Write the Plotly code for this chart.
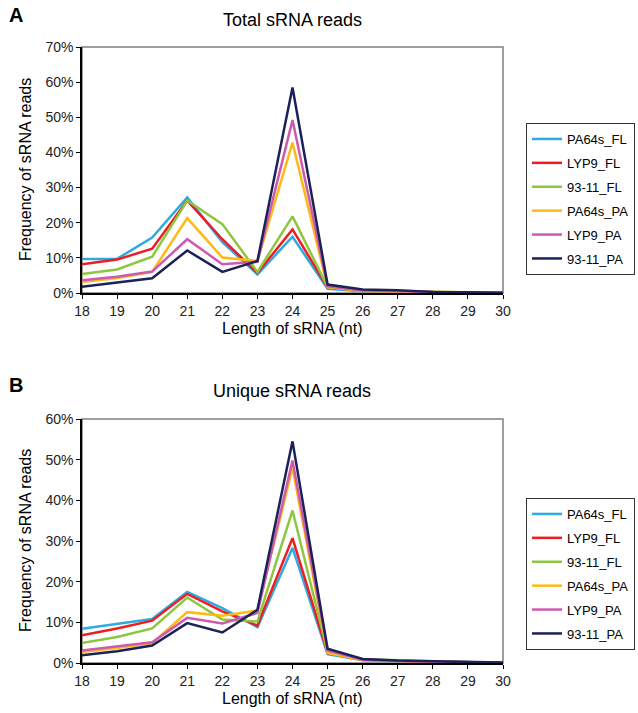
import plotly.graph_objects as go

lengths = [18, 19, 20, 21, 22, 23, 24, 25, 26, 27, 28, 29, 30]
series_names = ["PA64s_FL", "LYP9_FL", "93-11_FL", "PA64s_PA", "LYP9_PA", "93-11_PA"]
colors = ["#2DAAE1", "#EE1D23", "#8DC63F", "#FDBA12", "#CC5AB0", "#1C2258"]

# Total sRNA reads (%)
total_PA64s_FL = [9.7, 9.7, 15.8, 27.2, 14.5, 5.3, 16.0, 1.2, 0.5, 0.4, 0.2, 0.1, 0.05]
total_LYP9_FL = [8.2, 9.5, 12.6, 26.3, 15.3, 5.7, 18.1, 1.6, 0.6, 0.4, 0.2, 0.1, 0.05]
total_9311_FL = [5.4, 6.7, 10.3, 26.3, 19.6, 6.0, 21.8, 1.7, 0.6, 0.5, 0.2, 0.1, 0.05]
total_PA64s_PA = [3.1, 4.3, 6.0, 21.3, 10.1, 9.1, 42.8, 1.7, 0.6, 0.5, 0.2, 0.1, 0.05]
total_LYP9_PA = [3.6, 4.6, 6.1, 15.3, 8.2, 8.9, 49.2, 1.9, 0.7, 0.5, 0.2, 0.1, 0.05]
total_9311_PA = [1.8, 2.9, 4.2, 12.1, 6.0, 9.1, 58.5, 2.4, 1.0, 0.8, 0.3, 0.2, 0.05]

# Unique sRNA reads (%)
uniq_PA64s_FL = [8.4, 9.6, 10.8, 17.5, 13.5, 8.8, 28.3, 2.2, 0.7, 0.5, 0.3, 0.1, 0.05]
uniq_LYP9_FL = [6.8, 8.5, 10.4, 17.0, 12.7, 9.2, 30.7, 2.5, 0.8, 0.5, 0.3, 0.1, 0.05]
uniq_9311_FL = [4.9, 6.4, 8.5, 16.1, 10.7, 10.2, 37.5, 2.7, 0.9, 0.6, 0.4, 0.2, 0.05]
uniq_PA64s_PA = [2.7, 3.7, 4.9, 12.5, 11.6, 12.9, 48.0, 2.5, 0.7, 0.5, 0.3, 0.1, 0.05]
uniq_LYP9_PA = [3.1, 4.1, 5.1, 11.1, 9.7, 12.3, 49.8, 3.1, 0.8, 0.5, 0.3, 0.1, 0.05]
uniq_9311_PA = [1.9, 2.9, 4.3, 9.8, 7.5, 13.1, 54.5, 3.5, 1.0, 0.6, 0.4, 0.2, 0.1]

total_series = [total_PA64s_FL, total_LYP9_FL, total_9311_FL, total_PA64s_PA, total_LYP9_PA, total_9311_PA]
uniq_series = [uniq_PA64s_FL, uniq_LYP9_FL, uniq_9311_FL, uniq_PA64s_PA, uniq_LYP9_PA, uniq_9311_PA]

W, H = 638, 713
FONT = "Liberation Sans, Arial, sans-serif"

def px_x(x):
    return x / W

def px_y(y):
    return 1 - y / H

fig = go.Figure()

for i, name in enumerate(series_names):
    fig.add_trace(go.Scatter(
        x=lengths, y=[v / 100 for v in total_series[i]], name=name, mode="lines",
        line=dict(color=colors[i], width=2.5), xaxis="x", yaxis="y",
        legend="legend", legendgroup="a" + str(i)))
for i, name in enumerate(series_names):
    fig.add_trace(go.Scatter(
        x=lengths, y=[v / 100 for v in uniq_series[i]], name=name, mode="lines",
        line=dict(color=colors[i], width=2.5), xaxis="x2", yaxis="y2",
        legend="legend2", legendgroup="b" + str(i)))

xl, xr = 82, 503
top_t, top_b = 47, 293
bot_t, bot_b = 419, 663

axis_common = dict(showline=True, linecolor="#000000", linewidth=1.5, ticks="outside",
                   ticklen=4, tickcolor="#000000", showgrid=False, zeroline=False,
                   automargin=False,
                   tickfont=dict(family=FONT, size=14, color="#222222"))

legend_common = dict(xanchor="left", yanchor="top",
                     bordercolor="#333333", borderwidth=1, bgcolor="white",
                     font=dict(family=FONT, size=13, color="#000000"),
                     traceorder="grouped", tracegroupgap=4, itemwidth=30)

fig.update_layout(
    width=W, height=H, margin=dict(l=0, r=0, t=0, b=0, autoexpand=False),
    paper_bgcolor="white", plot_bgcolor="white",
    font=dict(family=FONT, color="#000000"),
    xaxis=dict(domain=[px_x(xl), px_x(xr)], anchor="y", range=[18, 30], dtick=1, tick0=18, **axis_common),
    yaxis=dict(domain=[px_y(top_b), px_y(top_t)], anchor="x", range=[0, 0.7], dtick=0.1, tickformat=".0%", **axis_common),
    xaxis2=dict(domain=[px_x(xl), px_x(xr)], anchor="y2", range=[18, 30], dtick=1, tick0=18, **axis_common),
    yaxis2=dict(domain=[px_y(bot_b), px_y(bot_t)], anchor="x2", range=[0, 0.6], dtick=0.1, tickformat=".0%", **axis_common),
    legend=dict(x=px_x(526), y=px_y(123), **legend_common),
    legend2=dict(x=px_x(526), y=px_y(498), **legend_common),
    showlegend=True,
)

# gray frame around plot areas
for (t, b) in [(top_t, top_b), (bot_t, bot_b)]:
    fig.add_shape(type="rect", xref="paper", yref="paper",
                  x0=px_x(xl), x1=px_x(xr), y0=px_y(b), y1=px_y(t),
                  line=dict(color="#808080", width=1.5), layer="below")

annos = [
    dict(text="<b>A</b>", x=px_x(7), y=px_y(15), size=20, xanchor="left"),
    dict(text="<b>B</b>", x=px_x(7), y=px_y(385), size=20, xanchor="left"),
    dict(text="Total sRNA reads", x=px_x(292), y=px_y(20), size=18, xanchor="center"),
    dict(text="Unique sRNA reads", x=px_x(292), y=px_y(391), size=18, xanchor="center"),
    dict(text="Length of sRNA (nt)", x=px_x(292), y=px_y(328), size=16, xanchor="center"),
    dict(text="Length of sRNA (nt)", x=px_x(292), y=px_y(698), size=16, xanchor="center"),
]
for a in annos:
    fig.add_annotation(text=a["text"], x=a["x"], y=a["y"], xref="paper", yref="paper",
                       xanchor=a["xanchor"], yanchor="middle", showarrow=False,
                       font=dict(family=FONT, size=a["size"], color="#000000"))
for yc in [(top_t + top_b) / 2, (bot_t + bot_b) / 2]:
    fig.add_annotation(text="Frequency of sRNA reads", x=px_x(25), y=px_y(yc), xref="paper", yref="paper",
                       xanchor="center", yanchor="middle", showarrow=False, textangle=-90,
                       font=dict(family=FONT, size=16, color="#000000"))

fig.write_html("out.html")
